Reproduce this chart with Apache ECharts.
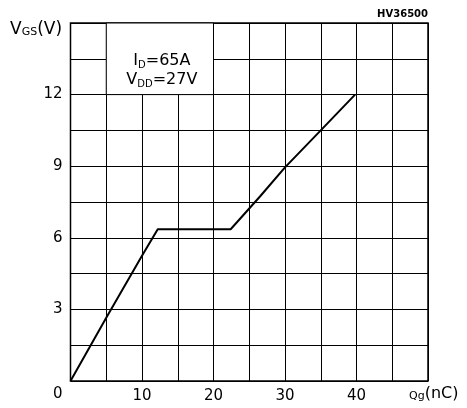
<!DOCTYPE html>
<html>
<head>
<meta charset="utf-8">
<script src="https://cdn.jsdelivr.net/npm/echarts@6/dist/echarts.min.js"></script>
<style>
  html, body { margin: 0; padding: 0; background: #fff; }
  #chart { width: 467px; height: 408px; }
</style>
</head>
<body>
<div id="chart"></div>
<script>
// Gate charge curve: gate charge Qg (nC) vs gate-source voltage VGS (V)
const gateCharge = [0, 5, 10, 12.2, 22.4, 26.5, 30, 35, 39.8];
const gateVoltage = [0, 2.65, 5.25, 6.36, 6.36, 7.73, 8.95, 10.5, 12];
const xTickLabels = [10, 20, 30, 40];
const yTickLabels = [3, 6, 9, 12];

const FONT = 'DejaVu Sans';
const points = gateCharge.map((q, i) => [q, gateVoltage[i]]);

const chart = echarts.init(document.getElementById('chart'), null, { renderer: 'canvas' });

chart.setOption({
  animation: false,
  backgroundColor: '#fff',
  grid: {
    left: 70.5, right: 39, top: 23, bottom: 27,
    show: true, borderColor: '#000', borderWidth: 1.5, backgroundColor: 'transparent'
  },
  xAxis: {
    type: 'value', min: 0, max: 50, interval: 5,
    axisLine: { show: false },
    axisTick: { show: false },
    splitLine: { show: true, lineStyle: { color: '#000', width: 1 } },
    axisLabel: {
      color: '#000', fontFamily: FONT, fontSize: 15, margin: 8,
      formatter: v => xTickLabels.includes(v) ? String(v) : ''
    }
  },
  yAxis: {
    type: 'value', min: 0, max: 15, interval: 1.5,
    axisLine: { show: false },
    axisTick: { show: false },
    splitLine: { show: true, lineStyle: { color: '#000', width: 1 } },
    axisLabel: {
      color: '#000', fontFamily: FONT, fontSize: 15, margin: 8,
      formatter: v => yTickLabels.includes(Math.round(v * 10) / 10) ? String(Math.round(v)) : ''
    }
  },
  series: [{
    type: 'line',
    data: points,
    symbol: 'none',
    lineStyle: { color: '#000', width: 2 },
    markArea: {
      silent: true,
      itemStyle: { color: '#fff', borderColor: '#000', borderWidth: 1 },
      label: {
        show: true, position: 'inside', offset: [2, 12],
        color: '#000', fontFamily: FONT, fontSize: 16, lineHeight: 19, align: 'center',
        formatter: 'I{s|D}=65A\nV{s|DD}=27V',
        rich: {
          s: { fontFamily: FONT, fontSize: 10, color: '#000', verticalAlign: 'bottom', lineHeight: 19 }
        }
      },
      data: [[{ xAxis: 5, yAxis: 15 }, { xAxis: 20, yAxis: 12 }]]
    }
  }],
  graphic: [
    {
      type: 'text', left: 10, top: 21,
      style: {
        text: 'V{s|GS}(V)', fill: '#000', font: '17px ' + FONT,
        rich: { s: { fontSize: 11, fontFamily: FONT, fill: '#000', verticalAlign: 'bottom' } }
      }
    },
    {
      type: 'text', right: 39, top: 9,
      style: { text: 'HV36500', fill: '#000', font: 'bold 10px ' + FONT }
    },
    {
      type: 'text', left: 53, top: 387,
      style: { text: '0', fill: '#000', font: '15px ' + FONT }
    },
    {
      type: 'text', left: 409, top: 386,
      style: {
        text: '{s|Qg}(nC)', fill: '#000', font: '16px ' + FONT,
        rich: { s: { fontSize: 11, fontFamily: FONT, fill: '#000', verticalAlign: 'bottom' } }
      }
    }
  ]
});
</script>
</body>
</html>
